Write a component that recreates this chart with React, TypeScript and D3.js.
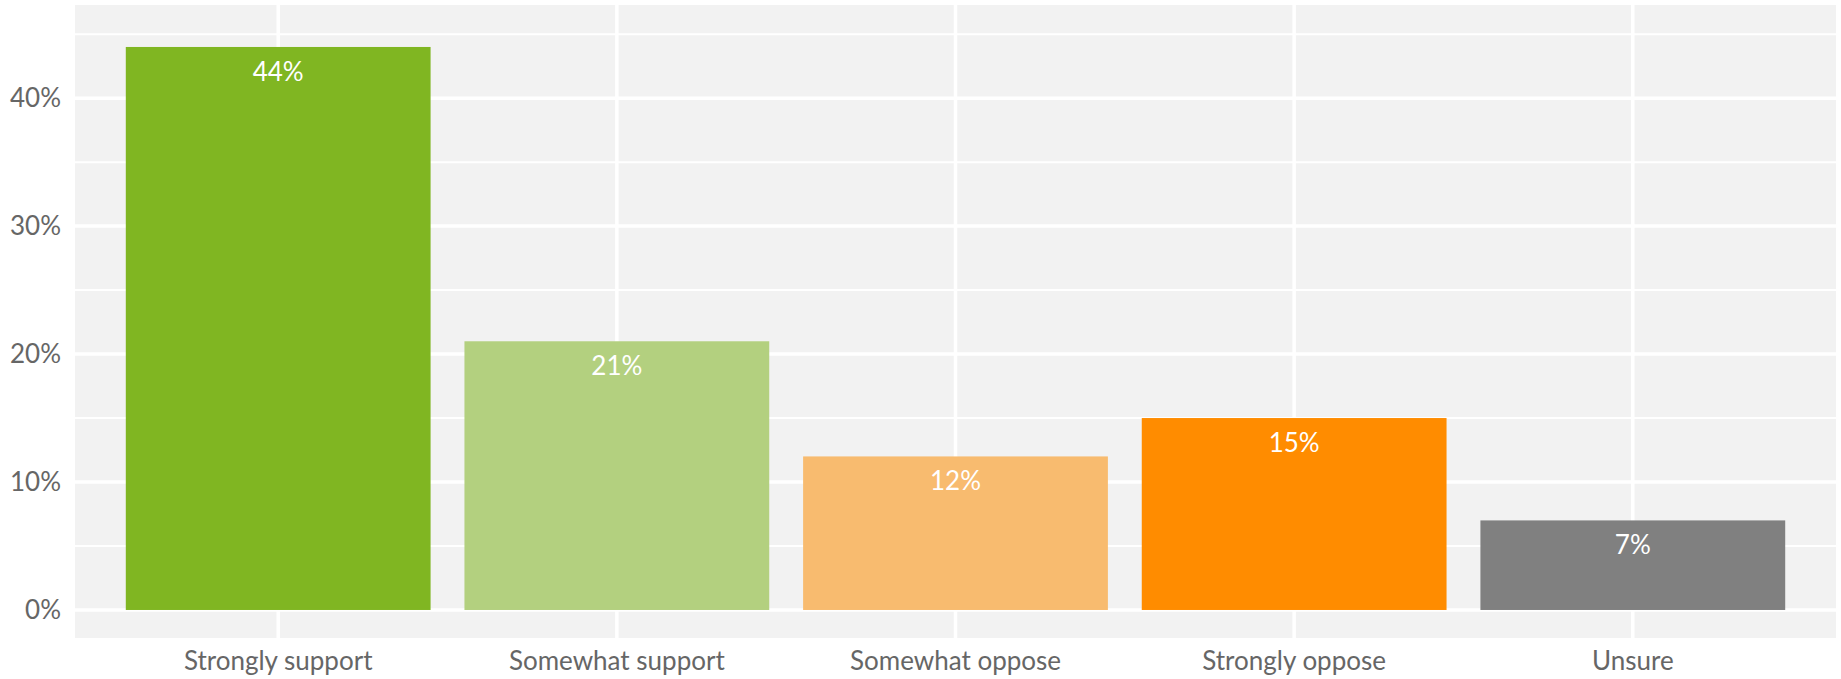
import React from "react";
import * as d3 from "d3";

const categories = ["Strongly support", "Somewhat support", "Somewhat oppose", "Strongly oppose", "Unsure"];
const values = [44, 21, 12, 15, 7];
const colors = ["#80b622", "#b3d07f", "#f8bb6f", "#ff8c00", "#808080"];
const majorTicks = [0, 10, 20, 30, 40];
const minorTicks = [5, 15, 25, 35, 45];

const W = 1841;
const H = 679;
const panel = { left: 75, right: 1836, top: 5, bottom: 638 };

export default function App() {
  const y = d3.scaleLinear().domain([-2.19, 47.28]).range([panel.bottom, panel.top]);
  const step = (panel.right - panel.left) / (categories.length - 1 + 1.2);
  const x = d3
    .scalePoint<string>()
    .domain(categories)
    .range([panel.left + 0.6 * step, panel.right - 0.6 * step]);
  const bw = step * 0.9;
  const font = "Lato, 'Open Sans', sans-serif";

  return (
    <svg
      width={W}
      height={H}
      style={{ position: "absolute", left: 0, top: 0, display: "block" }}
      fontFamily={font}
    >
      <rect x={0} y={0} width={W} height={H} fill="#ffffff" />
      <rect
        x={panel.left}
        y={panel.top}
        width={panel.right - panel.left}
        height={panel.bottom - panel.top}
        fill="#f2f2f2"
      />
      {minorTicks.map((t) => (
        <line key={"mi" + t} x1={panel.left} x2={panel.right} y1={y(t)} y2={y(t)} stroke="#ffffff" strokeWidth={2} />
      ))}
      {majorTicks.map((t) => (
        <line key={"ma" + t} x1={panel.left} x2={panel.right} y1={y(t)} y2={y(t)} stroke="#ffffff" strokeWidth={3.5} />
      ))}
      {categories.map((c) => (
        <line key={"v" + c} x1={x(c)} x2={x(c)} y1={panel.top} y2={panel.bottom} stroke="#ffffff" strokeWidth={3.5} />
      ))}
      {categories.map((c, i) => (
        <rect
          key={"b" + c}
          x={(x(c) as number) - bw / 2}
          y={y(values[i])}
          width={bw}
          height={y(0) - y(values[i])}
          fill={colors[i]}
        />
      ))}
      {categories.map((c, i) => (
        <text
          key={"l" + c}
          x={x(c)}
          y={y(values[i]) + 34}
          textAnchor="middle"
          fill="#ffffff"
          fontSize={26}
        >
          {values[i]}%
        </text>
      ))}
      {majorTicks.map((t) => (
        <text
          key={"yt" + t}
          x={61}
          y={y(t)}
          dy="0.35em"
          textAnchor="end"
          fill="#666666"
          fontSize={26}
        >
          {t}%
        </text>
      ))}
      {categories.map((c) => (
        <text key={"xt" + c} x={x(c)} y={670} textAnchor="middle" fill="#666666" fontSize={26}>
          {c}
        </text>
      ))}
    </svg>
  );
}
